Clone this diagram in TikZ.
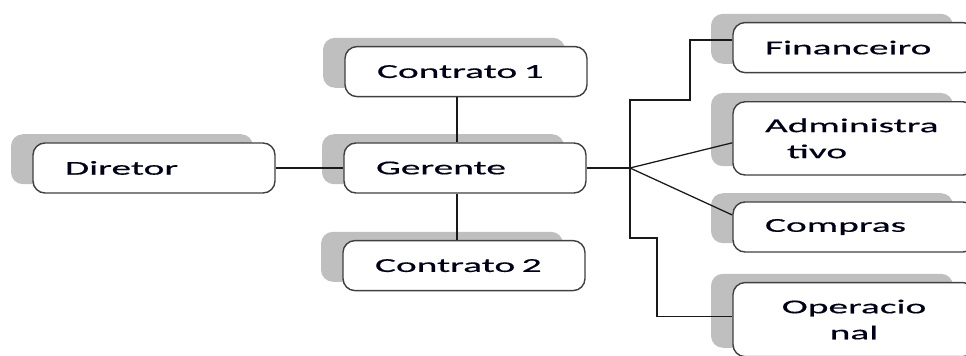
\documentclass[tikz,border=0pt]{standalone}
\usepackage{fontspec}
\setmainfont{Carlito}[FakeStretch=2.0, FakeBold=0.6]
\usetikzlibrary{shadows}

\begin{document}
\begin{tikzpicture}[
  cargo/.style={draw=black!75, line width=1pt, fill=white, rounded corners=0.3cm,
    minimum width=6.05cm, minimum height=1.25cm, text width=4.45cm, inner xsep=0.8cm,
    align=left, font=\fontsize{14}{18.5}\selectfont, text=black!90!blue,
    drop shadow={shadow xshift=-0.55cm, shadow yshift=0.22cm, fill=black!25, opacity=1}},
  ligacao/.style={black!90, line width=0.9pt}]

% page
  \useasboundingbox (0,0) rectangle (24.15,-8.9);

  % boxes
  \node[cargo] (diretor) at (3.85,-4.2) {Diretor};
  \node[cargo] (gerente) at (11.625,-4.2) {Gerente};
  \node[cargo] (contrato1) at (11.65,-1.79) {Contrato 1};
  \node[cargo] (contrato2) at (11.6,-6.64) {Contrato 2};

  \node[cargo] (financeiro) at (21.35,-1.19) {Financeiro};
  \node[cargo, minimum height=1.83cm] (adm) at (21.35,-3.46) {Administra\\\hspace*{0.55cm}tivo};
  \node[cargo] (compras) at (21.35,-5.675) {Compras};
  \node[cargo, minimum height=1.85cm, align=center] (operacional) at (21.35,-7.99) {Operacio\\nal};

  % lines
  \coordinate (hub) at (15.75,-4.2);
  \draw[ligacao] (diretor.east) -- (gerente.west);
  \draw[ligacao] ([xshift=-2mm]gerente.north) -- ([xshift=-2mm]gerente.north |- contrato1.south);
  \draw[ligacao] ([xshift=-2mm]gerente.south) -- ([xshift=-2mm]gerente.south |- contrato2.north);
  \draw[ligacao] (gerente.east) -- (hub);

  \draw[ligacao] (hub) |- (17.25,-2.5) |- ([yshift=0.19cm]financeiro.west);
  \draw[ligacao] (hub) -- ([yshift=-0.11cm]adm.west);
  \draw[ligacao] (hub) -- ([yshift=0.3cm]compras.west);
  \draw[ligacao] (hub) |- (16.425,-5.95) |- ([yshift=0.07cm]operacional.west);

\end{tikzpicture}
\end{document}
